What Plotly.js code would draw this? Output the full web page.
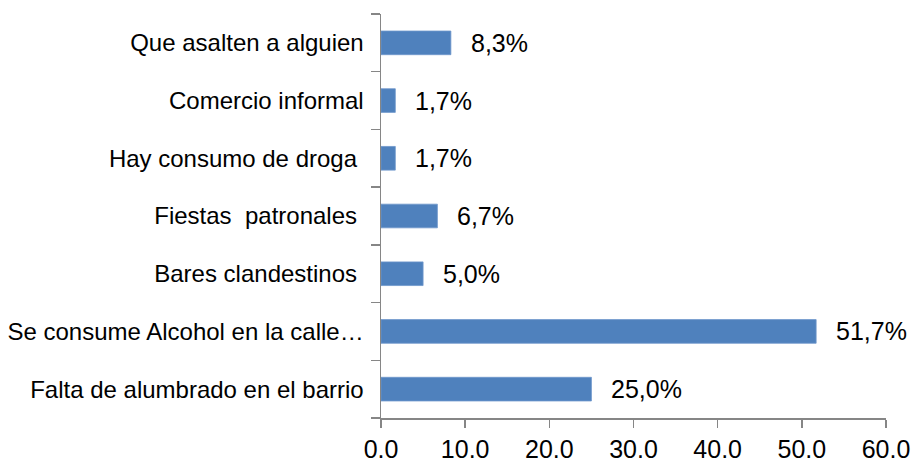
<!DOCTYPE html>
<html>
<head>
<meta charset="utf-8">
<script src="https://cdn.plot.ly/plotly-3.0.1.min.js"></script>
<style>
  html, body { margin: 0; padding: 0; background: #fff; }
  #chart { width: 919px; height: 461px; }
</style>
</head>
<body>
<div id="chart"></div>
<script>
// Categories listed bottom to top
const categories = [
  "Falta de alumbrado en el barrio",
  "Se consume Alcohol en la calle\u2026",
  "Bares clandestinos\u00a0",
  "Fiestas\u00a0 patronales\u00a0",
  "Hay consumo de droga\u00a0",
  "Comercio informal",
  "Que asalten a alguien"
];
const values = [25.0, 51.7, 5.0, 6.7, 1.7, 1.7, 8.3];
const xTicks = [0, 10, 20, 30, 40, 50, 60];

const fmtPct = v => v.toFixed(1).replace('.', ',') + '%';

const trace = {
  type: 'bar',
  orientation: 'h',
  x: values,
  y: categories,
  marker: { color: '#4F81BD', line: { color: '#6E97CB', width: 0.8 } },
  hoverinfo: 'none'
};

const annotations = values.map((v, i) => ({
  x: v, y: categories[i], xref: 'x', yref: 'y',
  text: fmtPct(v), showarrow: false,
  xanchor: 'left', yanchor: 'middle', xshift: 18,
  font: { family: 'Liberation Sans, Arial, sans-serif', size: 25, color: '#000' }
}));

const layout = {
  width: 919, height: 461,
  margin: { l: 381, r: 33, t: 14, b: 43, pad: 0 },
  paper_bgcolor: '#fff', plot_bgcolor: '#fff',
  showlegend: false,
  bargap: 0.59,
  font: { family: 'Liberation Sans, Arial, sans-serif', color: '#000' },
  xaxis: {
    range: [0, 60], tickvals: xTicks, tickformat: '.1f',
    showgrid: false, zeroline: false,
    showline: true, linecolor: '#868686', linewidth: 1.5,
    ticks: 'outside', ticklen: 8, tickcolor: '#868686', tickwidth: 1.5,
    tickfont: { size: 25, color: '#000' },
    fixedrange: true
  },
  yaxis: {
    type: 'category', categoryorder: 'array', categoryarray: categories,
    showgrid: false, zeroline: false,
    showline: true, linecolor: '#868686', linewidth: 1.5,
    ticks: 'outside', ticklen: 9, tickcolor: '#868686', tickwidth: 1.5,
    tickson: 'boundaries',
    tickfont: { size: 24, color: '#000' },
    ticklabelstandoff: 11,
    fixedrange: true
  },
  annotations: annotations
};

Plotly.newPlot('chart', [trace], layout, { displayModeBar: false, staticPlot: true });
</script>
</body>
</html>
